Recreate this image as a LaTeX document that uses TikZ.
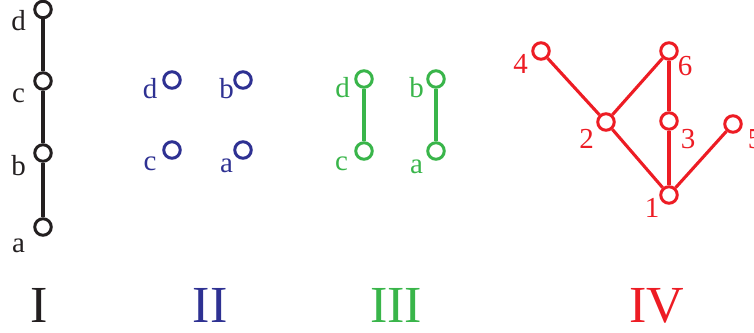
\documentclass[tikz,border=0pt]{standalone}
\usepackage{fontspec}
\setmainfont{Liberation Serif}
\definecolor{cI}{HTML}{231F20}
\definecolor{cII}{HTML}{2E3192}
\definecolor{cIII}{HTML}{39B54A}
\definecolor{cIV}{HTML}{ED1C24}
\begin{document}
\begin{tikzpicture}[x=1pt,y=-1pt,
  vtx/.style={circle,draw,line width=3pt,minimum size=16.5pt,inner sep=0pt,fill=white},
  lbl/.style={anchor=base,inner sep=0pt,font=\fontsize{29}{29}\selectfont},
  num/.style={anchor=base,inner sep=0pt,text depth=0pt,font=\fontsize{52}{52}\selectfont},
  edge/.style={line width=3.1pt}]
\useasboundingbox (0,0) rectangle (754,332);
% Panel I
\begin{scope}[cI]
\node[vtx] (Id) at (43,9.5) {};
\node[vtx] (Ic) at (43,81) {};
\node[vtx] (Ib) at (43,153) {};
\node[vtx] (Ia) at (43,227) {};
\draw[edge] (Id) -- (Ic) -- (Ib) -- (Ia);
\node[lbl] (Ild) at (18.5,30) {d};
\node[lbl] (Ilc) at (18.5,102) {c};
\node[lbl] (Ilb) at (18.5,175) {b};
\node[lbl] (Ila) at (18.5,252) {a};
\node[num] (nI) at (39.5,322) {I};
\end{scope}
% Panel II
\begin{scope}[cII]
\node[vtx] (IId) at (172,80) {};
\node[vtx] (IIb) at (243,80) {};
\node[vtx] (IIc) at (172,150) {};
\node[vtx] (IIa) at (243,150) {};
\node[lbl] (IIld) at (150,98) {d};
\node[lbl] (IIlb) at (226.5,98) {b};
\node[lbl] (IIlc) at (150,170) {c};
\node[lbl] (IIla) at (226.5,172) {a};
\node[num] (nII) at (210,322) {II};
\end{scope}
% Panel III
\begin{scope}[cIII]
\node[vtx] (IIId) at (364,79) {};
\node[vtx] (IIIb) at (436,79) {};
\node[vtx] (IIIc) at (364,151) {};
\node[vtx] (IIIa) at (436,151) {};
\draw[edge] (IIId) -- (IIIc);
\draw[edge] (IIIb) -- (IIIa);
\node[lbl] (IIIld) at (342.5,97) {d};
\node[lbl] (IIIlb) at (416.5,97) {b};
\node[lbl] (IIIlc) at (341.5,170) {c};
\node[lbl] (IIIla) at (416.5,173) {a};
\node[num] (nIII) at (396,322) {III};
\end{scope}
% Panel IV
\begin{scope}[cIV]
\node[vtx] (v4) at (541,51) {};
\node[vtx] (v6) at (669,51) {};
\node[vtx] (v2) at (606,122) {};
\node[vtx] (v3) at (669,121) {};
\node[vtx] (v5) at (733,124) {};
\node[vtx] (v1) at (669,195) {};
\draw[edge] (v4) -- (v2);
\draw[edge] (v2) -- (v6);
\draw[edge] (v6) -- (v3);
\draw[edge] (v3) -- (v1);
\draw[edge] (v2) -- (v1);
\draw[edge] (v1) -- (v5);
\node[lbl] (l4) at (520.5,73) {4};
\node[lbl] (l6) at (685,75) {6};
\node[lbl] (l2) at (586.5,148) {2};
\node[lbl] (l3) at (688,148) {3};
\node[lbl] (l5) at (755,148) {5};
\node[lbl] (l1) at (652,217) {1};
\node[num] (nIV) at (657,322) {IV};
\end{scope}
\end{tikzpicture}
\end{document}
